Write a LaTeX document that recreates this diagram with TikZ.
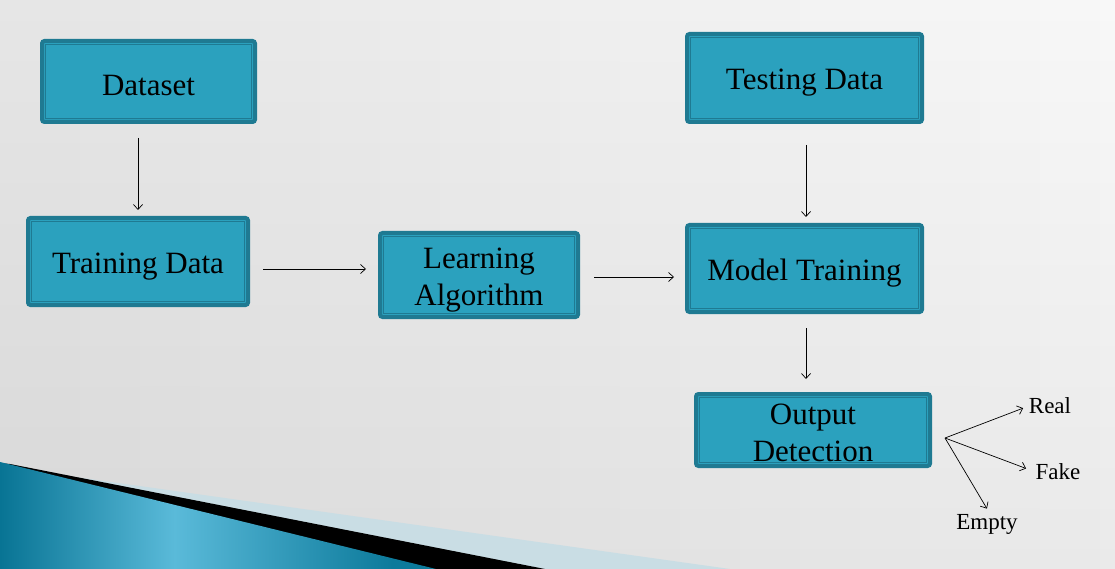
\documentclass[tikz,border=0pt]{standalone}
\usepackage{fontspec}
\setmainfont{Liberation Serif}
\usetikzlibrary{arrows.meta,calc}
\definecolor{boxfill}{RGB}{43,161,190}
\definecolor{boxedge}{RGB}{31,122,146}
\definecolor{stripe}{RGB}{201,221,228}
\definecolor{tdark}{RGB}{8,116,148}
\definecolor{tlight}{RGB}{90,186,217}
\definecolor{tdarktwo}{RGB}{12,122,155}
\pgfdeclarehorizontalshading{tealsh}{100bp}{color(0bp)=(tdark); color(25bp)=(tdark); color(45bp)=(tlight); color(70bp)=(tdarktwo); color(75bp)=(tdarktwo); color(100bp)=(tdarktwo)}
\begin{document}
\begin{tikzpicture}[x=1pt,y=-1pt,
  box/.style={draw=boxedge, line width=4pt, fill=boxfill, rounded corners=2.5pt,
    inner sep=0pt},
  boxtext/.style={font=\fontsize{31}{37}\selectfont, text=black, align=center, inner sep=0pt},
  innerline/.style={draw=boxedge, line width=0.9pt},
  arr/.style={-{Straight Barb[length=5pt,width=9pt]}, line width=0.7pt, black},
  lbl/.style={font=\fontsize{23}{27}\selectfont, text=black, inner sep=0pt}]
\useasboundingbox (0,0) rectangle (1115,569);
% background: diagonal gradient built from vertical strips
\foreach \i in {0,...,55} {
  \pgfmathtruncatemacro\lo{216+18*\i/55}
  \pgfmathtruncatemacro\hi{\lo+14}
  \definecolor{colbot}{RGB}{\lo,\lo,\lo}
  \definecolor{coltop}{RGB}{\hi,\hi,\hi}
  \shade[top color=coltop, bottom color=colbot] (\i*20,0) rectangle (\i*20+20.6,569);
}
% bottom-left decoration
\fill[stripe] (40,472) -- (730,569) -- (0,569) -- (0,470) -- cycle;
\fill[black] (10,464) -- (545,569) -- (0,569) -- (0,463) -- cycle;
\shade[shading=tealsh] (0,462) -- (436,569) -- (0,569) -- cycle;
% boxes
\node[box, minimum width=213pt, minimum height=81pt,
  label={[boxtext, yshift=-4pt]center:Dataset}] (dataset) at (148.5,81.5) {};
\node[box, minimum width=220pt, minimum height=87pt,
  label={[boxtext, yshift=-5pt]center:Training Data}] (train) at (138,261.5) {};
\node[box, minimum width=198pt, minimum height=84pt,
  label={[boxtext, yshift=-5pt]center:{Learning\\Algorithm}}] (learn) at (479,275) {};
\node[box, minimum width=235pt, minimum height=88pt,
  label={[boxtext, yshift=-5pt]center:Testing Data}] (test) at (804.5,78) {};
\node[box, minimum width=235pt, minimum height=87pt,
  label={[boxtext, yshift=-5pt]center:Model Training}] (model) at (804.5,268.5) {};
\node[box, minimum width=234pt, minimum height=72pt,
  label={[boxtext, yshift=-3pt]center:{Output\\Detection}}] (output) at (813,430) {};
\foreach \n in {dataset,train,learn,test,model,output}
  \draw[innerline] ([shift={(5.5pt,-5.5pt)}]\n.north west) rectangle ([shift={(-5.5pt,5.5pt)}]\n.south east);
% labels
\coordinate (branch) at (945,438);
\node[lbl] (real) at (1050,406) {Real};
\node[lbl] (fake) at (1058,472) {Fake};
\node[lbl] (empty) at (987,524) {Empty};
% connectors
\draw[arr, shorten <=14pt, shorten >=6pt] (train.north |- dataset.south) -- (train.north);
\draw[arr, shorten <=13pt, shorten >=12pt] ([yshift=-7.5pt]train.east) -- ([yshift=-7.5pt]train.east -| learn.west);
\draw[arr, shorten <=14pt, shorten >=11pt] ([yshift=-2pt]learn.east) -- ([yshift=-2pt]learn.east -| model.west);
\draw[arr, shorten <=21pt, shorten >=6pt] ([xshift=1.5pt]test.south) -- ([xshift=1.5pt]model.north);
\draw[arr, shorten <=14pt, shorten >=13pt] ([xshift=1.5pt]model.south) -- ([xshift=1.5pt]model.south |- output.north);
\draw[arr, shorten >=6pt] (branch) -- (real.west);
\draw[arr, shorten >=10pt] (branch) -- (fake.west);
\draw[arr, shorten >=6pt] (branch) -- ([xshift=3pt]empty.north);
\end{tikzpicture}
\end{document}
